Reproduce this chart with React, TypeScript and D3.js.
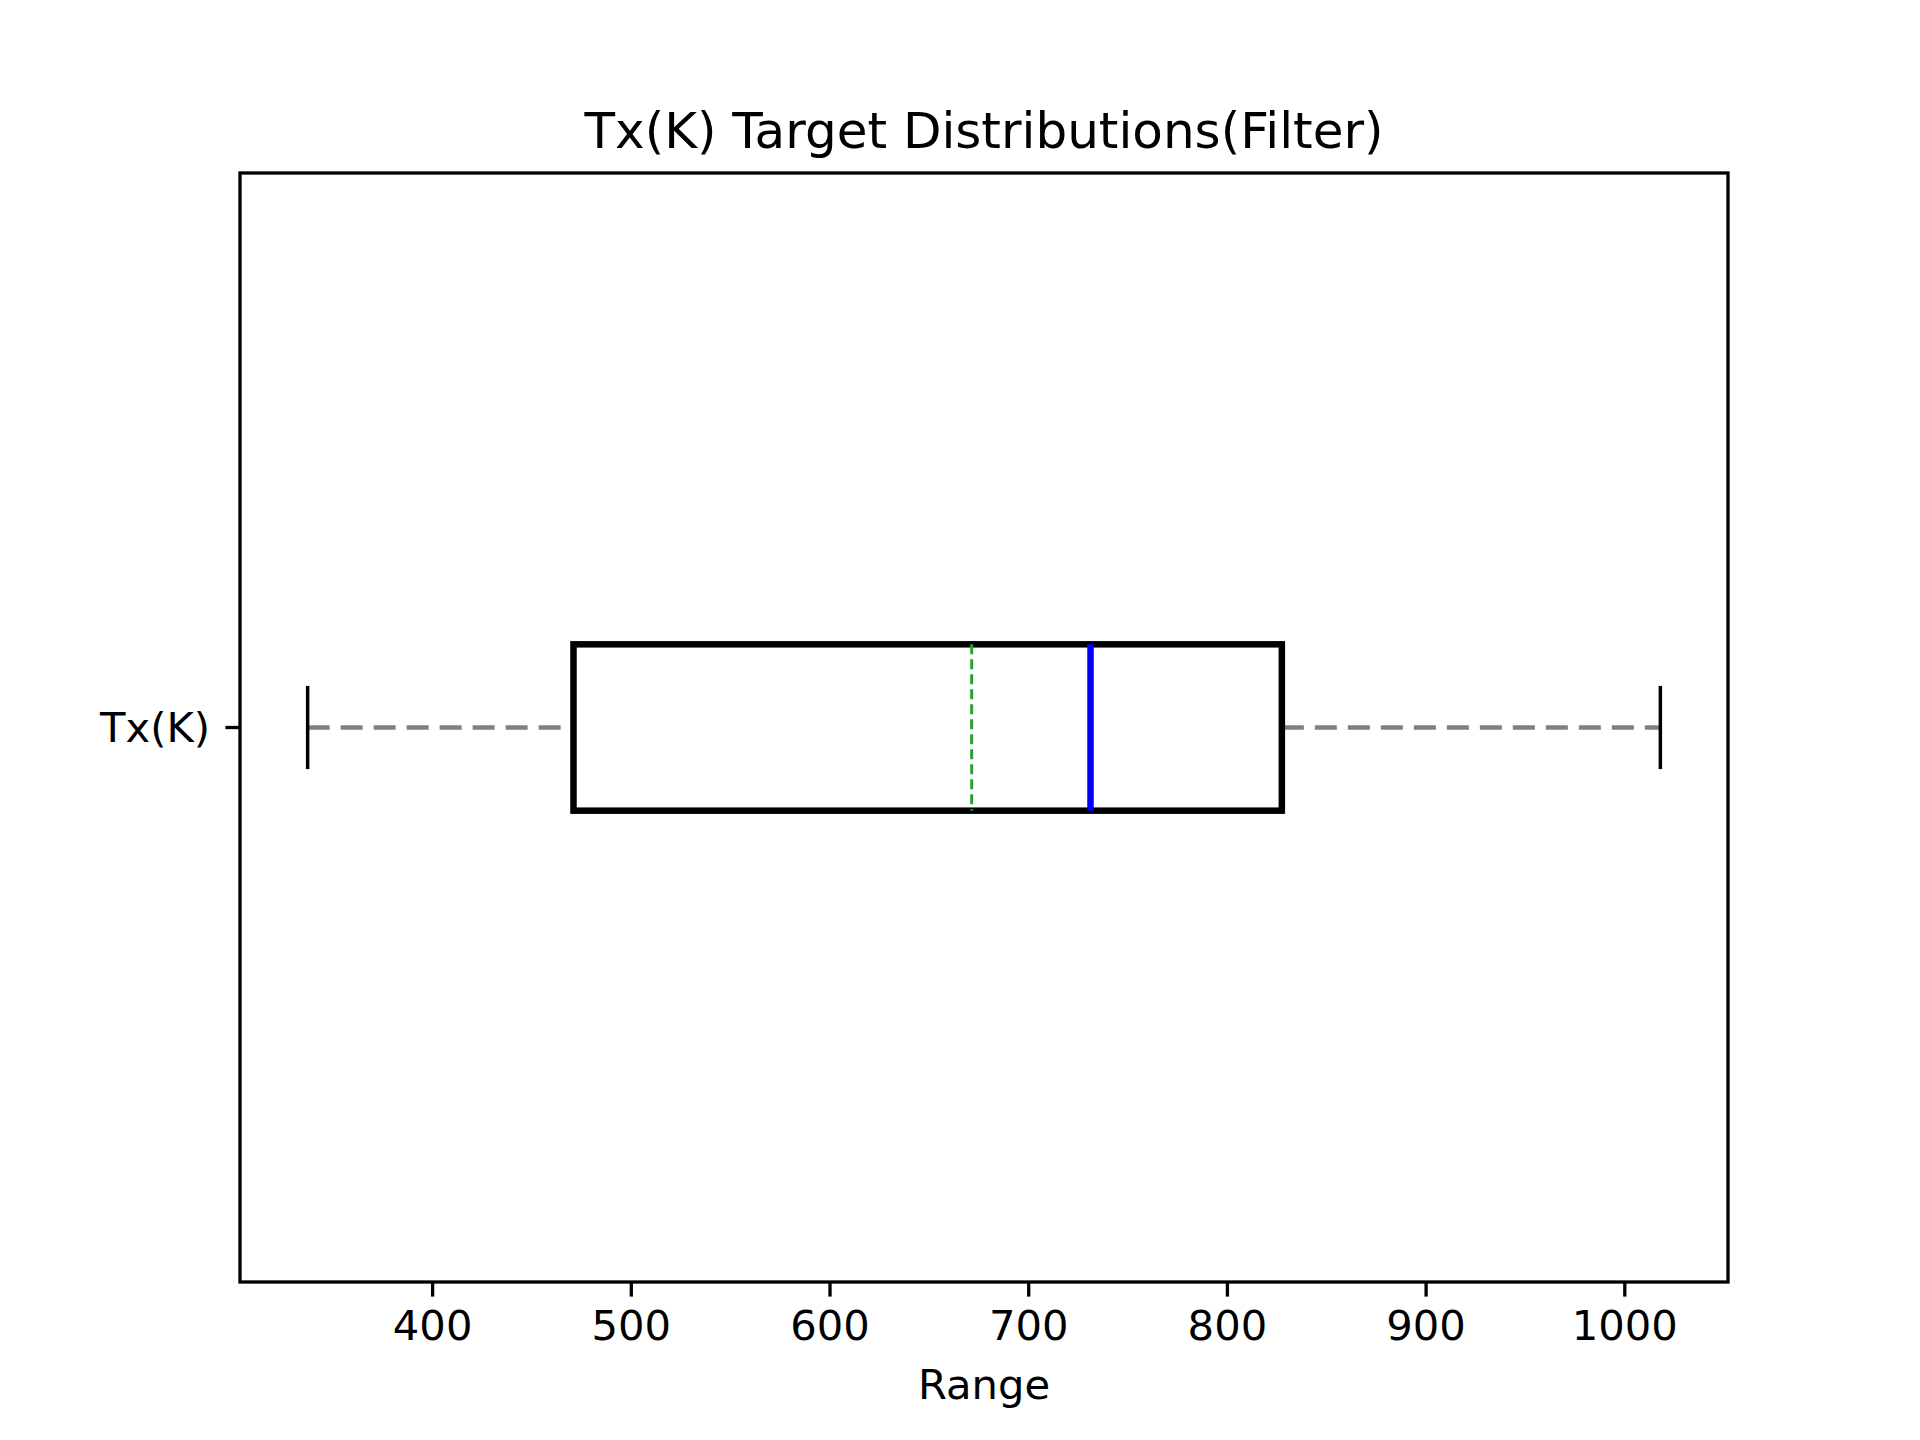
import * as d3 from 'd3';

const labels = ['Tx(K)'];
const whiskerLow = [337.1];
const q1 = [470.9];
const median = [731.1];
const mean = [671.3];
const q3 = [827.4];
const whiskerHigh = [1017.9];
const xTicks = [400, 500, 600, 700, 800, 900, 1000];

const W = 1920;
const H = 1440;
const margin = { left: 240, right: 192, top: 173, bottom: 158 };

export default function App() {
  const innerW = W - margin.left - margin.right;
  const innerH = H - margin.top - margin.bottom;
  const pad = (whiskerHigh[0] - whiskerLow[0]) * 0.05;
  const x = d3
    .scaleLinear()
    .domain([d3.min(whiskerLow)! - pad, d3.max(whiskerHigh)! + pad])
    .range([0, innerW]);
  const y = d3.scaleLinear().domain([0.5, labels.length + 0.5]).range([innerH, 0]);
  const font = 'DejaVu Sans, sans-serif';

  return (
    <svg width={W} height={H} style={{ display: 'block', margin: -8, background: '#fff' }}>
      <text x={margin.left + innerW / 2} y={148} textAnchor="middle" fontSize={50} fontFamily={font}>
        Tx(K) Target Distributions(Filter)
      </text>
      <g transform={`translate(${margin.left},${margin.top})`}>
        {labels.map((l, i) => {
          const cy = y(i + 1);
          const bh = y(0) - y(0.15);
          const ch = y(0) - y(0.075);
          return (
            <g key={l}>
              <line x1={x(whiskerLow[i])} x2={x(q1[i])} y1={cy} y2={cy} stroke="#808080" strokeWidth={4.5} strokeDasharray="22,11" />
              <line x1={x(q3[i])} x2={x(whiskerHigh[i])} y1={cy} y2={cy} stroke="#808080" strokeWidth={4.5} strokeDasharray="22,11" />
              <line x1={x(whiskerLow[i])} x2={x(whiskerLow[i])} y1={cy - ch / 2} y2={cy + ch / 2} stroke="#000" strokeWidth={3.5} />
              <line x1={x(whiskerHigh[i])} x2={x(whiskerHigh[i])} y1={cy - ch / 2} y2={cy + ch / 2} stroke="#000" strokeWidth={3.5} />
              <rect x={x(q1[i])} y={cy - bh / 2} width={x(q3[i]) - x(q1[i])} height={bh} fill="none" stroke="#000" strokeWidth={6.5} />
              <line x1={x(mean[i])} x2={x(mean[i])} y1={cy - bh / 2} y2={cy + bh / 2} stroke="#2ca02c" strokeWidth={3} strokeDasharray="10,5" />
              <line x1={x(median[i])} x2={x(median[i])} y1={cy - bh / 2} y2={cy + bh / 2} stroke="#0000ff" strokeWidth={6.5} />
              <line x1={-14.6} x2={0} y1={cy} y2={cy} stroke="#000" strokeWidth={3.3} />
              <text x={-30} y={cy} dy="0.35em" textAnchor="end" fontSize={41.7} fontFamily={font}>{l}</text>
            </g>
          );
        })}
        {xTicks.map((t) => (
          <g key={t} transform={`translate(${x(t)},${innerH})`}>
            <line y2={14.6} stroke="#000" strokeWidth={3.3} />
            <text y={58} textAnchor="middle" fontSize={41.7} fontFamily={font}>{t}</text>
          </g>
        ))}
        <rect width={innerW} height={innerH} fill="none" stroke="#000" strokeWidth={3.3} />
        <text x={innerW / 2} y={innerH + 117} textAnchor="middle" fontSize={41.7} fontFamily={font}>Range</text>
      </g>
    </svg>
  );
}
